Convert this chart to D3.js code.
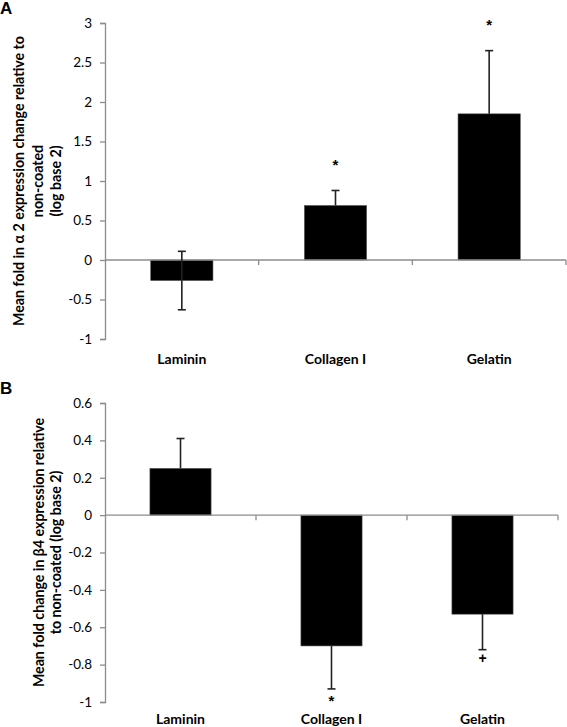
<!DOCTYPE html>
<html>
<head>
<meta charset="utf-8">
<script src="https://cdn.jsdelivr.net/npm/d3@7"></script>
<style>
  html, body { margin: 0; padding: 0; background: #fff; }
  svg { display: block; font-family: Lato, "Open Sans", sans-serif; }
</style>
</head>
<body>
<svg id="chart" width="567" height="727"></svg>
<script>
// ---- data ----
const categories = ["Laminin", "Collagen I", "Gelatin"];

const alphaMeans   = [-0.26, 0.69, 1.85];
const alphaErrUp   = [0.37, 0.19, 0.80];
const alphaErrDown = [0.37, 0, 0];
const alphaMarks   = ["", "*", "*"];
const alphaTicks   = [-1, -0.5, 0, 0.5, 1, 1.5, 2, 2.5, 3];
const alphaTitle   = ["Mean fold in \u03b1 2 expression change relative to", "non-coated", "(log base 2)"];

const betaMeans    = [0.25, -0.70, -0.53];
const betaErrUp    = [0.16, 0, 0];
const betaErrDown  = [0, 0.23, 0.19];
const betaMarks    = ["", "*", "+"];
const betaTicks    = [-1, -0.8, -0.6, -0.4, -0.2, 0, 0.2, 0.4, 0.6];
const betaTitle    = ["Mean fold change in \u03b24 expression relative", "to non-coated  (log base 2)"];

const svg = d3.select("#chart");
const axisColor = "#8c8c8c";

function panel(cfg) {
  const g = svg.append("g");
  const x = d3.scaleBand().domain(categories).range([cfg.x0, cfg.x1]).padding(0);
  const y = d3.scaleLinear().domain(cfg.domain).range([cfg.yBottom, cfg.yTop]);
  const barW = x.bandwidth() * 0.405;

  // panel letter
  g.append("text").attr("x", 0).attr("y", cfg.letterY)
    .attr("font-size", 17).attr("font-weight", "bold")
    .attr("font-family", "Liberation Sans, Arial, sans-serif")
    .text(cfg.letter);

  // y axis
  const yAxis = g.append("g").attr("transform", `translate(${cfg.x0},0)`)
    .call(d3.axisLeft(y).tickValues(cfg.ticks).tickSize(5).tickPadding(8));
  yAxis.select(".domain").attr("stroke", axisColor).attr("stroke-width", 1.3);
  yAxis.selectAll(".tick line").attr("stroke", axisColor).attr("stroke-width", 1.3);
  yAxis.selectAll(".tick text").attr("font-size", 13.5).attr("fill", "#000")
    .attr("font-family", "Lato, sans-serif")
    .text(d => d < 0 ? "-" + Math.abs(+d.toFixed(2)) : String(+d.toFixed(2)));

  // bars
  g.selectAll(".bar").data(cfg.means).enter().append("rect")
    .attr("x", (d, i) => x(categories[i]) + x.bandwidth() / 2 - barW / 2)
    .attr("width", barW)
    .attr("y", d => y(Math.max(0, d)))
    .attr("height", d => Math.abs(y(d) - y(0)))
    .attr("fill", "#000")
    .attr("stroke", "#555").attr("stroke-width", 0.6);

  // x axis at zero
  const xAxis = g.append("g").attr("transform", `translate(0,${y(0)})`);
  xAxis.append("line").attr("x1", cfg.x0).attr("x2", cfg.x1)
    .attr("y1", 0).attr("y2", 0).attr("stroke", axisColor).attr("stroke-width", 1.3);
  const bounds = categories.map(c => x(c) + x.bandwidth());
  xAxis.selectAll(".xt").data(bounds).enter().append("line")
    .attr("x1", d => d).attr("x2", d => d).attr("y1", 0).attr("y2", 5)
    .attr("stroke", axisColor).attr("stroke-width", 1.3);

  // error bars
  const cap = 4;
  cfg.means.forEach((m, i) => {
    const cx = x(categories[i]) + x.bandwidth() / 2;
    const up = cfg.errUp[i], dn = cfg.errDown[i];
    const eg = g.append("g").attr("stroke", "#222").attr("stroke-width", 1.6);
    if (up > 0) {
      eg.append("line").attr("x1", cx).attr("x2", cx).attr("y1", y(m)).attr("y2", y(m + up));
      eg.append("line").attr("x1", cx - cap).attr("x2", cx + cap).attr("y1", y(m + up)).attr("y2", y(m + up));
    }
    if (dn > 0) {
      eg.append("line").attr("x1", cx).attr("x2", cx).attr("y1", y(m)).attr("y2", y(m - dn));
      eg.append("line").attr("x1", cx - cap).attr("x2", cx + cap).attr("y1", y(m - dn)).attr("y2", y(m - dn));
    }
    const mk = cfg.marks[i];
    if (mk) {
      let my;
      if (m >= 0) my = y(m + up) - 30;
      else my = y(m - dn) + 8;
      g.append("text").attr("x", cx).attr("y", my)
        .attr("text-anchor", "middle").attr("dominant-baseline", "central")
        .attr("font-size", mk === "*" ? 15 : 14).attr("font-weight", "bold")
        .attr("font-family", "Liberation Sans, Arial, sans-serif")
        .attr("dy", mk === "*" ? "0.25em" : "0")
        .text(mk);
    }
  });

  // category labels
  g.selectAll(".cat").data(categories).enter().append("text")
    .attr("x", d => x(d) + x.bandwidth() / 2)
    .attr("y", cfg.catY)
    .attr("text-anchor", "middle").attr("dominant-baseline", "central")
    .attr("font-size", 14).attr("font-weight", "bold").attr("fill", "#000")
    .text(d => d);

  // y title
  const cy = (cfg.yTop + cfg.yBottom) / 2;
  cfg.title.forEach((t, k) => {
    g.append("text")
      .attr("transform", `translate(${cfg.titleX[k]},${cy}) rotate(-90)`)
      .attr("text-anchor", "middle").attr("dominant-baseline", "central")
      .attr("font-size", 14.2).attr("font-weight", "bold").attr("fill", "#000")
      .text(t);
  });
}

panel({
  letter: "A", letterY: 14,
  x0: 105, x1: 566, yTop: 23, yBottom: 339, domain: [-1, 3],
  ticks: alphaTicks, means: alphaMeans, errUp: alphaErrUp, errDown: alphaErrDown,
  marks: alphaMarks, catY: 358, title: alphaTitle, titleX: [18, 37, 55]
});

panel({
  letter: "B", letterY: 394,
  x0: 105, x1: 558, yTop: 403, yBottom: 702, domain: [-1, 0.6],
  ticks: betaTicks, means: betaMeans, errUp: betaErrUp, errDown: betaErrDown,
  marks: betaMarks, catY: 718, title: betaTitle, titleX: [38, 55]
});
</script>
</body>
</html>
